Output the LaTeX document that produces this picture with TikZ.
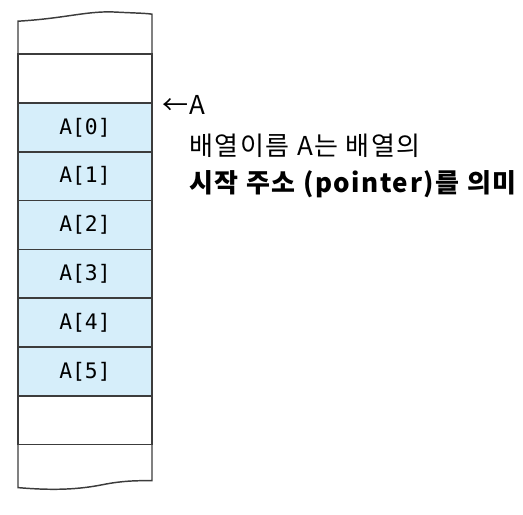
\documentclass[tikz,border=0pt]{standalone}
\usepackage{fontspec}
\setmonofont{DejaVu Sans Mono}
\newfontfamily\kofont[LetterSpace=6]{Noto Sans CJK KR}
\usetikzlibrary{positioning,calc}
\definecolor{cellfill}{RGB}{214,238,250}
\definecolor{cellline}{RGB}{60,60,60}

\begin{document}
\begin{tikzpicture}[x=0.75pt, y=-0.75pt,
  cell/.style={draw=cellline, line width=1.1pt, fill=cellfill, outer sep=0pt, inner sep=0pt,
    minimum width=100.5pt, minimum height=36.6pt, font=\ttfamily\fontsize{16}{18}\selectfont},
  blank/.style={cell, fill=white},
  note/.style={anchor=west, inner sep=0pt, font=\kofont\fontsize{19.5}{22}\selectfont},
]
\useasboundingbox (0,0) rectangle (523,514);

% ===== Memory cells =====
\node[cell] (c0) at (85,127.4) {A[0]};
\node[blank] (top) [above=0pt of c0] {};
\node[cell] (c1) [below=0pt of c0] {A[1]};
\node[cell] (c2) [below=0pt of c1] {A[2]};
\node[cell] (c3) [below=0pt of c2] {A[3]};
\node[cell] (c4) [below=0pt of c3] {A[4]};
\node[cell] (c5) [below=0pt of c4] {A[5]};
\node[blank] (bot) [below=0pt of c5] {};

% ===== Torn ends (top and bottom) =====
\draw[cellline, line width=1.1pt]
  (top.north west) -- ($(top.north west)+(0,-33)$)
  .. controls ($(top.north west)+(50,-36)$) and ($(top.north west)+(70,-44)$) .. ($(top.north west)+(100,-42)$)
  .. controls ($(top.north west)+(120,-41)$) and ($(top.north west)+(128,-41)$) .. ($(top.north east)+(0,-40)$)
  -- (top.north east);
\draw[cellline, line width=1.1pt]
  (bot.south west) -- ($(bot.south west)+(0,43)$)
  .. controls ($(bot.south west)+(35,46)$) and ($(bot.south west)+(60,45)$) .. ($(bot.south west)+(85,40)$)
  .. controls ($(bot.south west)+(105,36)$) and ($(bot.south west)+(120,36)$) .. ($(bot.south east)+(0,36)$)
  -- (bot.south east);

% ===== Pointer label and note =====
\node[note] (name) at (162,105) {←A};
\node[note] (desc1) at (189,146) {배열이름 A는 배열의};
\node[note, font=\kofont\bfseries\fontsize{19.5}{22}\selectfont] (desc2) at (189,184) {시작 주소 (pointer)를 의미};
\end{tikzpicture}
\end{document}
